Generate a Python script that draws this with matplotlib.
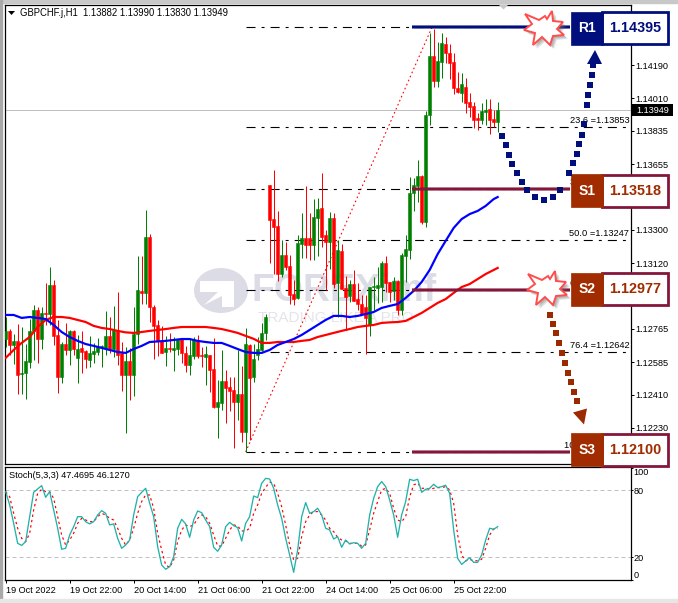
import matplotlib
matplotlib.use('Agg')
import matplotlib.pyplot as plt
from matplotlib.patches import Polygon, Rectangle, Ellipse

plt.rcParams['font.family'] = ['Liberation Sans', 'DejaVu Sans']

# hourly candles, prices in 1e-5 (points)
opens = [112710, 112754, 112678, 112700, 112521, 112527, 112586, 112754, 112867, 112710,
         112851, 112845, 113002, 112732, 112505, 112683, 112651, 112754, 112608, 112662,
         112646, 112597, 112629, 112640, 112667, 112662, 112727, 112656, 112759, 112635,
         112516, 112592, 112516, 112737, 112970, 112959, 113261, 112883, 112786, 112700,
         112640, 112662, 112651, 112656, 112710, 112635, 112570, 112618, 112705, 112624,
         112613, 112624, 112548, 112343, 112365, 112484, 112451, 112435, 112370, 112413,
         112208, 112678, 112505, 112624, 112651, 112743, 113542, 113358, 113320, 113061,
         113164, 113105, 112954, 112932, 113223, 113256, 113256, 113218, 113364, 113418,
         113272, 113234, 113364, 113013, 113185, 112986, 112943, 113007, 112926, 112899,
         112883, 112786, 112991, 112986, 112991, 113121, 113018, 112970, 113024, 112867,
         113159, 113191, 113499, 113537, 113591, 113342, 113920, 114239, 114104, 114206,
         114303, 114255, 114206, 114066, 114039, 114071, 113990, 113969, 113904, 113893,
         113936, 113952, 113898, 113882]
highs = [112829, 112764, 112737, 112791, 112775, 112683, 112818, 112894, 112883, 112883,
         113013, 113099, 113029, 112813, 112694, 112797, 112759, 112759, 112732, 112754,
         112651, 112727, 112689, 112716, 112678, 112862, 112829, 112889, 112964, 112694,
         112667, 112662, 112883, 113159, 113159, 113407, 113277, 112894, 112813, 112781,
         112727, 112743, 112721, 112705, 112716, 112673, 112716, 112721, 112732, 112667,
         112673, 112624, 112716, 112489, 112651, 112543, 112505, 112505, 112651, 112565,
         112770, 112683, 112683, 112721, 112797, 112845, 113542, 113623, 113402, 113245,
         113234, 113164, 113029, 113272, 113391, 113537, 113391, 113466, 113472, 113607,
         113299, 113396, 113391, 113245, 113223, 113051, 113029, 113083, 113013, 112948,
         112948, 112991, 113045, 113099, 113132, 113159, 113018, 113045, 113029, 113175,
         113272, 113585, 113580, 113677, 113596, 113942, 114363, 114384, 114314, 114363,
         114341, 114303, 114255, 114152, 114147, 114120, 114039, 113990, 113931, 113985,
         114006, 114006, 113947, 113990]
lows = [112667, 112624, 112575, 112413, 112413, 112386, 112554, 112597, 112581, 112656,
        112786, 112786, 112678, 112419, 112473, 112624, 112570, 112624, 112473, 112527,
        112554, 112559, 112581, 112624, 112559, 112624, 112635, 112613, 112570, 112430,
        112203, 112381, 112403, 112683, 112899, 112899, 112802, 112602, 112618, 112635,
        112565, 112640, 112538, 112624, 112581, 112532, 112516, 112602, 112608, 112559,
        112462, 112424, 112338, 112176, 112327, 112257, 112322, 112122, 112273, 112154,
        112100, 112165, 112478, 112597, 112646, 112705, 113121, 113061, 113024, 113045,
        113083, 112899, 112894, 112926, 113148, 113148, 113137, 113137, 113159, 113207,
        112975, 113088, 112986, 112829, 112981, 112759, 112910, 112916, 112867, 112840,
        112629, 112727, 112867, 112905, 112910, 112964, 112910, 112921, 112840, 112840,
        113018, 113143, 113402, 113450, 113331, 113315, 113866, 114071, 114071, 114120,
        114201, 114114, 114033, 114039, 113990, 113931, 113909, 113850, 113839, 113871,
        113866, 113817, 113855, 113830]
closes = [112754, 112678, 112700, 112516, 112527, 112592, 112754, 112867, 112710, 112851,
          112845, 113002, 112727, 112505, 112683, 112651, 112754, 112656, 112656, 112640,
          112602, 112635, 112646, 112667, 112673, 112727, 112656, 112759, 112624, 112516,
          112592, 112516, 112737, 112975, 112959, 113261, 112883, 112781, 112700, 112635,
          112662, 112656, 112662, 112705, 112635, 112570, 112624, 112705, 112618, 112618,
          112629, 112543, 112343, 112370, 112484, 112446, 112430, 112370, 112413, 112208,
          112683, 112500, 112602, 112656, 112743, 112829, 113353, 113315, 113061, 113164,
          113099, 112948, 112926, 113229, 113256, 113218, 113218, 113369, 113412, 113261,
          113234, 113364, 113007, 113191, 112981, 112937, 113007, 112916, 112899, 112845,
          112824, 112991, 112997, 113002, 113121, 113013, 112964, 113024, 112867, 113164,
          113196, 113499, 113542, 113591, 113342, 113920, 114239, 114104, 114212, 114309,
          114255, 114201, 114066, 114044, 114087, 113985, 113963, 113893, 113893, 113942,
          113947, 113893, 113882, 113949]

# moving averages, read every second bar
ma_bars = list(range(0, 124, 2)) + [123]
ma_blue = [112840, 112840, 112824, 112829, 112824, 112818, 112786, 112748, 112721, 112700,
           112683, 112673, 112662, 112651, 112640, 112635, 112656, 112673, 112694, 112697,
           112700, 112705, 112710, 112710, 112700, 112694, 112689, 112689, 112673, 112656,
           112640, 112635, 112635, 112651, 112678, 112694, 112710, 112732, 112759, 112786,
           112813, 112835, 112835, 112829, 112835, 112845, 112856, 112878, 112889, 112899,
           112932, 112970, 113018, 113083, 113169, 113240, 113310, 113358, 113385, 113402,
           113429, 113466, 113477]
ma_red = [112608, 112651, 112689, 112721, 112775, 112813, 112829, 112829, 112824, 112813,
          112802, 112781, 112770, 112764, 112754, 112746, 112743, 112748, 112754, 112759,
          112764, 112770, 112775, 112775, 112775, 112775, 112770, 112764, 112754, 112743,
          112727, 112711, 112689, 112689, 112694, 112694, 112694, 112700, 112705, 112721,
          112732, 112743, 112754, 112764, 112775, 112781, 112786, 112797, 112800, 112802,
          112808, 112829, 112851, 112878, 112905, 112926, 112959, 112991, 113007, 113034,
          113061, 113083, 113094]

# stochastic
stoch_main = [78.8, 66.9, 50.4, 32.5, 30.7, 34, 56.4, 78.2, 81.2, 84.2,
              73.7, 78.8, 62.4, 46, 27.2, 28.1, 40, 47.5, 56.4, 56.4,
              51.9, 49.9, 51.9, 57.9, 61.8, 59.4, 49, 49.9, 37, 28.1,
              31, 35.5, 57.9, 74.3, 78.2, 81.8, 68.4, 56.4, 29.6, 13.1,
              9.3, 11.6, 20.6, 46, 54, 49.9, 37.9, 53.4, 61.5, 60,
              53.4, 47.5, 29, 25.4, 31, 47.5, 51.3, 48.4, 46.6, 34.6,
              50.4, 56.4, 74.9, 73.4, 86.3, 90.7, 90.1, 81.8, 66.9, 54.9,
              37, 22.1, 6.6, 26.6, 56.4, 69, 59.4, 60.9, 63.9, 57.9,
              46, 44.5, 36.4, 38.5, 29, 35.5, 31.9, 33.1, 32.5, 28.1,
              32.5, 57.9, 72.8, 83.3, 87.8, 83.3, 71.3, 57.9, 37.9, 57.9,
              69.9, 89.9, 88.7, 89.9, 78.2, 80.9, 81.8, 85.4, 82.4, 83.3,
              84.5, 77.3, 44.5, 19.1, 13.7, 16.7, 19.7, 15.5, 15.5, 22.1,
              35.5, 46, 45.1, 47.47]
stoch_signal = [78.8, 74.3, 59.4, 46, 37, 34, 41.5, 62.4, 77.3, 80.9,
                78.8, 78.8, 72.8, 56.4, 40, 31, 35.5, 41.5, 50.4, 54.9,
                53.4, 51.9, 51.9, 56.4, 59.4, 57.9, 54.9, 53.4, 46, 37,
                31, 35.5, 46, 59.4, 69.9, 75.8, 75.8, 63.9, 41.5, 26.6,
                13.1, 11, 17.6, 34, 44.5, 49, 47.5, 49, 54.9, 57.9,
                56.4, 50.4, 40, 30.1, 30.1, 37, 44.5, 49, 48.1, 43.6,
                43.6, 46, 59.4, 66.9, 77.3, 82.7, 87.2, 86.3, 77.3, 65.4,
                49, 31, 17.6, 19.1, 38.5, 51.9, 57.9, 60.9, 60.9, 57.9,
                53.4, 46, 43, 37.9, 35.5, 34.6, 32.5, 32.5, 32.5, 30.1,
                31, 44.5, 59.4, 69.9, 80.3, 81.8, 77.3, 63.9, 53.4, 51.9,
                56.4, 74.3, 84.8, 86.3, 81.8, 81.8, 80.9, 81.8, 82.4, 82.4,
                83.3, 80.3, 68.4, 40, 22.1, 16.7, 18.2, 16.7, 17, 18.2,
                28.1, 40, 45.4, 46.13]

price_ticks = [1.14190, 1.14010, 1.13835, 1.13655, 1.13300, 1.13120, 1.12765, 1.12585, 1.12410, 1.12230]
last_price = 1.13949
fibo_prices = [1.14395, 1.13853, 1.13518, 1.13247, 1.12977, 1.12642, 1.12100]
fibo_names = ['', '23.6', '38.2', '50.0', '61.8', '76.4', '100.0']
time_bars = [0, 16, 32, 48, 64, 80, 96, 112]
time_labels = ['19 Oct 2022', '19 Oct 22:00', '20 Oct 14:00', '21 Oct 06:00',
               '21 Oct 22:00', '24 Oct 14:00', '25 Oct 06:00', '25 Oct 22:00']
sr_names = ['R1', 'S1', 'S2', 'S3']
sr_prices = [1.14395, 1.13518, 1.12977, 1.12100]

W, H = 678, 603
GREEN, RED = '#008000', '#ff0000'
NAVY, RUST, MAROON = '#000f7c', '#a02c00', '#84163a'
PX = 0.72  # one pixel in points


def pixel_axes(left, top, right, bottom):
    return fig.add_axes([left / W, 1 - bottom / H, (right - left) / W, (bottom - top) / H])


fig = plt.figure(figsize=(W / 100, H / 100), dpi=100, facecolor='#ffffff')

# window frame behind everything
bg = fig.add_axes([0, 0, 1, 1], zorder=0)
bg.set_xlim(0, W)
bg.set_ylim(H, 0)
bg.axis('off')
bg.add_patch(Rectangle((0, 0), W, 3, color='#c8c8c8'))
bg.add_patch(Rectangle((0, 0), 2, H, color='#a8a8a8'))
bg.add_patch(Rectangle((0, 599), W, 4, color='#e6e6e6'))

ax = pixel_axes(4.5, 4.5, 630.7, 464)
ax.set_zorder(1)
ax.set_xlim(-0.29, 156.26)
ax.set_ylim(1.12035, 1.14517)
ax.patch.set_alpha(0)

# watermark
wm_color = '#dcdce6'
wm = fig.add_axes([0, 0, 1, 1], zorder=0.5)
wm.set_xlim(0, W)
wm.set_ylim(H, 0)
wm.axis('off')
wm.add_patch(Ellipse((221, 290.5), 54, 45, color=wm_color, lw=0))
wm.add_patch(Polygon([(200, 281), (234, 281), (234, 307), (222, 307), (222, 296), (204, 305),
                      (218, 292), (200, 292)], color='white', lw=0))
wm.text(251, 291, 'FOREXimf', fontsize=27, fontweight='bold', color=wm_color, va='center', ha='left')
wm.text(258, 318, 'TRADING LIKE A PRO', fontsize=11, color='#e4e4ea', va='center', ha='left')

# candles
for i in range(len(opens)):
    c = GREEN if closes[i] >= opens[i] else RED
    ax.vlines(i, lows[i] / 1e5, highs[i] / 1e5, color=c, lw=PX, zorder=3)
    ax.bar(i, abs(closes[i] - opens[i]) / 1e5, bottom=min(opens[i], closes[i]) / 1e5, width=0.72,
           color=c, edgecolor=c, linewidth=0.4, zorder=3)

ax.plot(ma_bars, [v / 1e5 for v in ma_red], color=RED, lw=PX * 2.2, zorder=4)
ax.plot(ma_bars, [v / 1e5 for v in ma_blue], color='#0000ff', lw=PX * 2.2, zorder=5)

# last price line and fibo
ax.axhline(last_price, color='#c0c0c0', lw=PX, zorder=1)
ax.plot([60, 106.6], [fibo_prices[-1], fibo_prices[0]], color=RED, lw=PX * 1.1, ls=(0, (1.5, 2.5)), zorder=2)
for p, name in zip(fibo_prices, fibo_names):
    ax.plot([60, 156.26], [p, p], color='black', lw=PX * 1.1, ls=(0, (8.2, 5.5, 2.7, 5.5)), zorder=2)
    if name:
        ax.annotate(name + ' =%.5f' % p, xy=(1, p), xycoords=('axes fraction', 'data'), xytext=(-1, 1.5),
                    textcoords='offset points', ha='right', va='bottom', fontsize=6.7, color='black', zorder=2)

# support and resistance bars
for name, p in zip(sr_names, sr_prices):
    c = NAVY if name == 'R1' else MAROON
    ax.plot([101.5, 141], [p, p], color=c, lw=PX * 4, alpha=0.45, solid_capstyle='butt', zorder=6)
    ax.plot([101.5, 141], [p, p], color=c, lw=PX * 2.4, solid_capstyle='butt', zorder=6)

ax.yaxis.tick_right()
ax.set_yticks(price_ticks)
ax.set_yticklabels(['%.5f' % p for p in price_ticks], fontsize=6.6)
ax.tick_params(axis='y', length=2.5, width=PX, pad=1)
ax.set_xticks([])
for s in ax.spines.values():
    s.set_linewidth(0.9)

# stochastic panel
sx = pixel_axes(4.5, 466.5, 630.7, 580)
sx.set_zorder(1)
sx.set_xlim(-0.29, 156.26)
sx.set_ylim(-0.3, 101.3)
sx.patch.set_alpha(0)
for lvl in (80, 20):
    sx.axhline(lvl, color='#c0c0c0', lw=PX, ls=(0, (4, 3)), zorder=1)
sx.plot(range(len(stoch_main)), stoch_main, color='#20b2aa', lw=PX * 1.3, zorder=3)
sx.plot(range(len(stoch_signal)), stoch_signal, color=RED, lw=PX * 1.2, ls=(0, (2, 2.5)), zorder=2)
sx.yaxis.tick_right()
sx.set_yticks([100, 80, 20, 0])
sx.set_yticklabels(['100', '80', '20', '0'], fontsize=6.6)
sx.get_yticklabels()[0].set_va('top')
sx.get_yticklabels()[3].set_va('bottom')
sx.tick_params(axis='y', length=1.5, width=PX, pad=0.5)
sx.set_xticks(time_bars)
sx.set_xticklabels(time_labels, fontsize=6.6, ha='left')
sx.tick_params(axis='x', length=2.5, width=PX, pad=2)
for s in sx.spines.values():
    s.set_linewidth(0.9)

# overlay for labels, arrows and boxes, in pixels
ov = fig.add_axes([0, 0, 1, 1], zorder=10)
ov.set_xlim(0, W)
ov.set_ylim(H, 0)
ov.axis('off')
ov.patch.set_alpha(0)

ov.add_patch(Polygon([(8, 11), (15, 11), (11.5, 15)], color='black', lw=0))
ov.text(20, 12.8, 'GBPCHF.j,H1  1.13882 1.13990 1.13830 1.13949', fontsize=6.85, va='center', ha='left')
ov.text(9, 475.5, 'Stoch(5,3,3) 47.4695 46.1270', fontsize=6.6, va='center', ha='left')
ov.add_patch(Polygon([(499, 5), (508, 5), (503.5, 9.5)], color='#c8c8c8', lw=0))

ov.add_patch(Rectangle((632, 104), 41, 12, color='black', lw=0))
ov.text(652.5, 110.3, '%.5f' % last_price, color='white', fontsize=6.6, ha='center', va='center')

# dotted arrows
dots_up = [(502, 136), (505.7, 145.3), (508.7, 155), (512.3, 164), (516.7, 173.3), (521.7, 182), (527.3, 190),
           (535, 197.3), (544, 200), (552.7, 197.3), (560, 190), (569.3, 172.7), (573.3, 163.3), (576.7, 154.3),
           (579.3, 144), (582.3, 135), (584, 124), (587.3, 105), (588.3, 95), (590, 85), (592, 75), (593.3, 65)]
dots_down = [(550, 315), (552.7, 324), (555.7, 333.3), (558.7, 343.3), (561.7, 353.3), (564.7, 362.7),
             (567.7, 372.7), (570.7, 381.7), (573.7, 391.7), (576.7, 401)]
ov.plot(*zip(*dots_up), 's', color=NAVY, ms=4.6, mew=0)
ov.add_patch(Polygon([(595, 50), (587, 64), (602, 64)], color=NAVY, lw=0))
ov.plot(*zip(*dots_down), 's', color='#9c2a00', ms=4.2, mew=0)
ov.add_patch(Polygon([(584, 424.5), (573, 412.5), (587, 408.5)], color='#9c2a00', lw=0))

# starbursts
star = [(-19, -15), (-5, -9), (1, -13), (3, -10), (8, -18), (9, -8), (19, -7), (13, 0), (20, 6), (9, 7),
        (6, 16), (-2, 8), (-11, 16), (-9, 4), (-20, 1), (-12, -5)]
for cx, cy in [(544, 29), (547, 289)]:
    for off, a in [(4, 0.18), (3, 0.22), (2, 0.25)]:
        ov.add_patch(Polygon([(cx + x + off, cy + y + off) for x, y in star], color='#707070', alpha=a, lw=0))
    ov.add_patch(Polygon([(cx + x, cy + y) for x, y in star], facecolor='white', edgecolor='#ff4d4d', lw=1.4))

# level boxes
box_tops = [12, 174.7, 273, 433.5]
for name, p, top in zip(sr_names, sr_prices, box_tops):
    dark, edge = (NAVY, NAVY) if name == 'R1' else (RUST, MAROON)
    ov.add_patch(Rectangle((602, top), 66, 32, facecolor='white', edgecolor=edge, lw=2))
    ov.add_patch(Rectangle((571, top - 0.5), 32, 33, facecolor=dark, edgecolor=dark, lw=0.5))
    ov.text(587, top + 16, name, color='white', fontsize=10, fontweight='bold', ha='center', va='center')
    ov.text(635.5, top + 16, '%.5f' % p, color=dark, fontsize=10.4, fontweight='bold', ha='center', va='center')

fig.savefig('out.png', dpi=100)
